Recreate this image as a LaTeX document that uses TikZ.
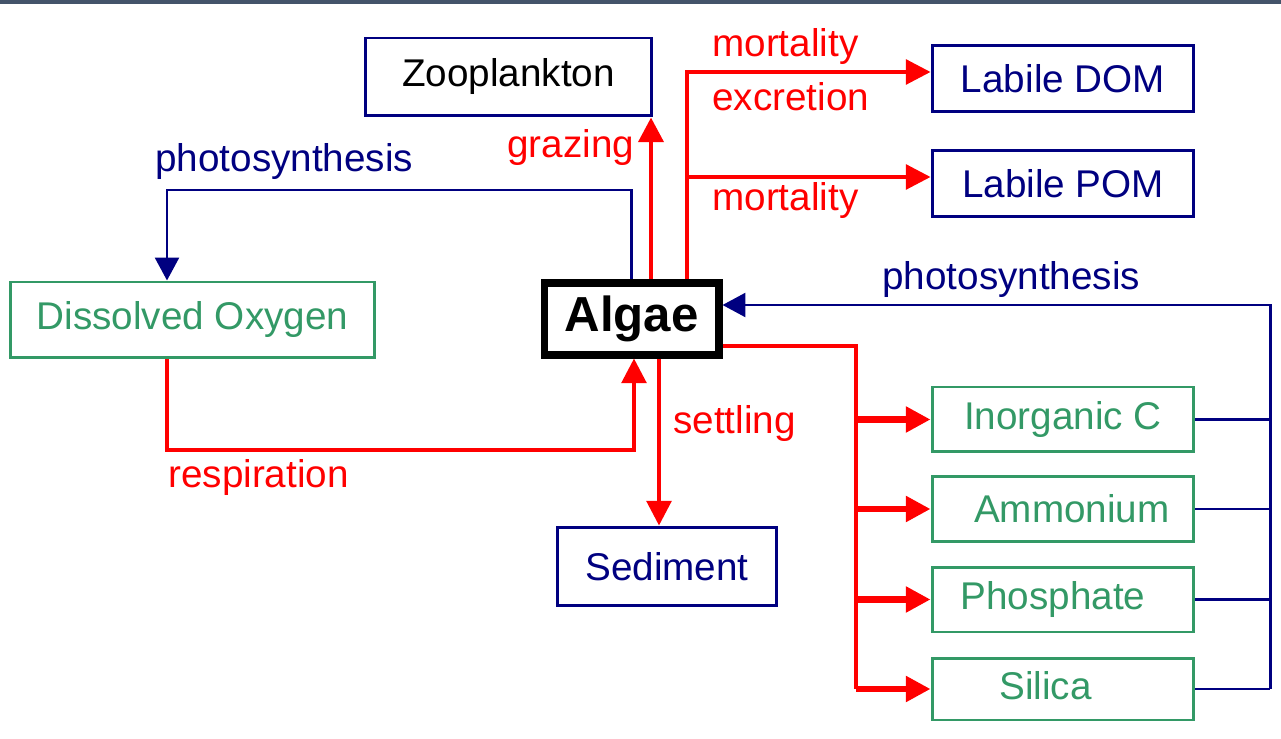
\documentclass[tikz,border=0pt]{standalone}
\usepackage{fontspec}
\setmainfont{Liberation Sans}
\usetikzlibrary{arrows.meta}

\definecolor{navy}{RGB}{0,0,128}
\definecolor{seagreen}{RGB}{51,153,102}
\definecolor{slatebar}{RGB}{68,84,106}

\begin{document}
\begin{tikzpicture}[x=0.02cm, y=-0.02cm,
        every node/.style={font=\fontsize{22}{26}\selectfont},
        navybox/.style={draw=navy, line width=1.7pt, text=navy, inner sep=0pt, minimum width=5.24cm, minimum height=1.32cm},
        greenbox/.style={draw=seagreen, line width=1.7pt, text=seagreen, inner sep=0pt, minimum width=5.24cm, minimum height=1.3cm},
        redarrow/.style={red, line width=2.2pt, -{Triangle[length=14pt,width=14pt]}},
        bluearrow/.style={navy, line width=1.7pt, -{Triangle[length=13pt,width=13.5pt]}},
        redlbl/.style={text=red, inner sep=0pt, anchor=west},
        bluelbl/.style={text=navy, inner sep=0pt, anchor=west}]
        \useasboundingbox (0,0) rectangle (1281,739);
        % Top bar
        \fill[slatebar] (0,0) rectangle (1281,4);

        % Central box
        \node[draw=black, line width=4pt, inner sep=0pt, minimum width=3.5cm, minimum height=1.44cm,
              font=\fontsize{28}{32}\selectfont\bfseries] (algae) at (631.5,319) {Algae};

        % Upper boxes
        \node[navybox, text=black, minimum width=5.74cm, minimum height=1.56cm] (zoo) at (508.5,77) {Zooplankton};
        \node[navybox] (dom) at (1063,78.5) {Labile DOM};
        \node[navybox] (pom) at (1063,183.5) {Labile POM};

        % Left and lower boxes
        \node[greenbox, minimum width=7.3cm, minimum height=1.52cm] (oxy) at (192.5,320) {Dissolved Oxygen};
        \node[navybox, minimum width=4.4cm, minimum height=1.58cm] (sed) at (667,566.5) {Sediment};

        % Nutrients
        \node[greenbox] (inc) at (1063,419.5) {Inorganic C};
        \node[greenbox] (amm) at (1063,509) {\hspace{0.35cm}Ammonium};
        \node[greenbox] (pho) at (1063,599.5) {Phosphate\kern0.4cm\mbox{}};
        \node[greenbox, minimum height=1.24cm] (sil) at (1063,689) {\raisebox{4pt}{Silica}\kern0.7cm\mbox{}};

        % Branch points
        \coordinate (mort) at (687,177);
        \coordinate (uptake) at (856,346);
        \coordinate (photo) at (1270,305);

        % Photosynthesis to oxygen
        \draw[bluearrow] (algae.north) |- (167,190) -- (oxy.north -| 167,0);
        \node[bluelbl] (photolbl) at (155,162) {photosynthesis};

        % Respiration
        \draw[redarrow] (oxy.south -| 167,0) |- (634,450) -- (algae.south -| 634,0);
        \node[redlbl] (resplbl) at (168,478) {respiration};

        % Grazing
        \draw[redarrow, line width=2.8pt] (algae.north -| 651,0) -- (zoo.south -| 651,0);
        \node[redlbl] (grazlbl) at (507,148) {grazing};

        % Mortality and excretion
        \draw[redarrow] (algae.north -| mort) |- (dom.west |- 0,72);
        \draw[redarrow] (mort) -- (pom.west |- mort);
        \node[redlbl] (mortlbl) at (712,47) {mortality};
        \node[redlbl] (exclbl) at (712,97) {excretion};
        \node[redlbl] (mortlblb) at (712,201) {mortality};

        % Settling
        \draw[redarrow] (algae.south -| 659,0) -- (sed.north -| 659,0);
        \node[redlbl] (settlbl) at (673,424) {settling};

        % Uptake of nutrients
        \draw[red, line width=2.2pt] (algae.east |- uptake) -- (uptake) -- (uptake |- sil.west);
        \foreach \n in {inc,amm,pho,sil}
            \draw[redarrow, line width=3.6pt] (uptake |- \n.west) -- (\n.west);

        % Photosynthesis from nutrients
        \foreach \n in {inc,amm,pho,sil}
            \draw[navy, line width=1.7pt] (\n.east) -- (photo |- \n.east);
        \draw[bluearrow] (photo |- sil.east) -- (photo) -- (algae.east |- photo);
        \node[bluelbl] (photolblb) at (882,280) {photosynthesis};
\end{tikzpicture}
\end{document}
